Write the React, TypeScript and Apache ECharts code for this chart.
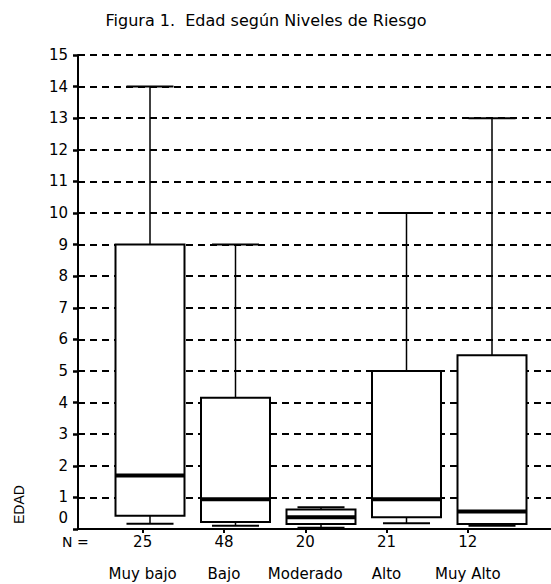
import React, { useEffect, useRef } from "react";
import * as echarts from "echarts";

const categories = ["Muy bajo", "Bajo", "Moderado", "Alto", "Muy Alto"];
const nCounts = ["25", "48", "20", "21", "12"];
const lowerWhisker = [0.17, 0.1, 0.04, 0.18, 0.1];
const q1 = [0.42, 0.22, 0.16, 0.37, 0.16];
const median = [1.69, 0.94, 0.37, 0.94, 0.55];
const q3 = [9, 4.15, 0.62, 5.0, 5.5];
const upperWhisker = [14, 9, 0.69, 10, 13];
const yTicks = { min: 0, max: 15, interval: 1 };

const FONT = "'DejaVu Sans', sans-serif";
const FONT2 = "'Liberation Sans', Arial, sans-serif";

export default function App() {
  const ref = useRef<HTMLDivElement>(null);
  useEffect(() => {
    if (!ref.current) return;
    const chart = echarts.init(ref.current, null, { renderer: "svg" });
    const top = 55;
    const bottom = 55;
    const boxData = categories.map((_, i) => [
      i,
      lowerWhisker[i],
      q1[i],
      median[i],
      q3[i],
      upperWhisker[i],
    ]);
    const option: any = {
      animation: false,
      backgroundColor: "#fff",
      textStyle: { fontFamily: FONT, color: "#000" },
      grid: [
        { left: 78, right: 0, top, bottom },
        { left: 107.25, width: 427.5, top, bottom },
        { left: 102, width: 406.5, top, bottom },
      ],
      xAxis: [
        {
          type: "value",
          gridIndex: 0,
          position: "bottom",
          min: 0,
          max: 1,
          axisLine: { show: true, onZero: false, lineStyle: { color: "#000", width: 2 } },
          axisTick: { show: false },
          axisLabel: { show: false },
          splitLine: { show: false },
        },
        {
          type: "value",
          gridIndex: 0,
          position: "top",
          min: 0,
          max: 1,
          axisLine: { show: true, lineStyle: { color: "#000", width: 2 } },
          axisTick: { show: false },
          axisLabel: { show: false },
          splitLine: { show: false },
        },
        {
          type: "category",
          gridIndex: 1,
          data: categories,
          show: false,
        },
        {
          type: "category",
          gridIndex: 2,
          position: "bottom",
          data: nCounts,
          axisLine: { show: false },
          axisTick: {
            show: true,
            alignWithLabel: true,
            length: 4,
            lineStyle: { color: "#000", width: 2 },
          },
          axisLabel: { interval: 0, margin: 5, fontSize: 15, color: "#000", fontFamily: FONT },
        },
        {
          type: "category",
          gridIndex: 2,
          position: "bottom",
          data: categories,
          axisLine: { show: false },
          axisTick: { show: false },
          axisLabel: { interval: 0, margin: 37, fontSize: 15, color: "#000", fontFamily: FONT },
        },
      ],
      yAxis: [
        {
          type: "value",
          gridIndex: 0,
          min: yTicks.min,
          max: yTicks.max,
          interval: yTicks.interval,
          axisLine: { show: true, lineStyle: { color: "#000", width: 2 } },
          axisTick: { show: true, length: 5, lineStyle: { color: "#000", width: 2.5 } },
          axisLabel: {
            margin: 10,
            fontSize: 15,
            color: "#000",
            fontFamily: FONT,
            formatter: (v: number) => (v === 0 ? "{z|0}" : String(v)),
            rich: { z: { fontSize: 15, fontFamily: FONT, color: "#000", padding: [0, 0, 22, 0] } },
          },
          splitLine: {
            show: true,
            lineStyle: { color: "#000", width: 2, type: [7, 5] },
          },
        },
        {
          type: "value",
          gridIndex: 1,
          min: yTicks.min,
          max: yTicks.max,
          show: false,
        },
        {
          type: "value",
          gridIndex: 2,
          min: yTicks.min,
          max: yTicks.max,
          show: false,
        },
      ],
      series: [
        {
          type: "custom",
          xAxisIndex: 2,
          yAxisIndex: 1,
          data: boxData,
          z: 5,
          renderItem: (params: any, api: any) => {
            const x = api.value(0);
            const pLo = api.coord([x, api.value(1)]);
            const pQ1 = api.coord([x, api.value(2)]);
            const pMed = api.coord([x, api.value(3)]);
            const pQ3 = api.coord([x, api.value(4)]);
            const pHi = api.coord([x, api.value(5)]);
            const band = api.size([1, 0])[0];
            const bw = band * 0.807;
            const cw = band * 0.55;
            const cx = pMed[0];
            const line = (x1: number, y1: number, x2: number, y2: number, w: number) => ({
              type: "line",
              shape: { x1, y1, x2, y2 },
              style: { stroke: "#000", lineWidth: w },
            });
            return {
              type: "group",
              children: [
                line(cx, pQ3[1], cx, pHi[1], 1.5),
                line(cx, pLo[1], cx, pQ1[1], 1.5),
                line(cx - cw / 2, pHi[1], cx + cw / 2, pHi[1], 2),
                line(cx - cw / 2, pLo[1], cx + cw / 2, pLo[1], 2),
                {
                  type: "rect",
                  shape: { x: cx - bw / 2, y: pQ3[1], width: bw, height: pQ1[1] - pQ3[1] },
                  style: { fill: "#fff", stroke: "#000", lineWidth: 2 },
                },
                line(cx - bw / 2, pMed[1], cx + bw / 2, pMed[1], 4),
              ],
            };
          },
        },
      ],
      graphic: [
        {
          type: "text",
          x: 266,
          y: 20,
          style: {
            text: "Figura 1.  Edad según Niveles de Riesgo",
            fontSize: 16,
            fontFamily: FONT,
            fill: "#000",
            align: "center",
            verticalAlign: "middle",
          },
        },
        {
          type: "text",
          x: 62,
          y: 542,
          style: {
            text: "N =",
            fontSize: 14,
            fontFamily: FONT,
            fill: "#000",
            verticalAlign: "middle",
          },
        },
        {
          type: "text",
          x: 12,
          y: 524,
          rotation: Math.PI / 2,
          style: { text: "EDAD", fontSize: 14, fontFamily: FONT2, fill: "#000" },
        },
      ],
    };
    chart.setOption(option);
    return () => chart.dispose();
  }, []);
  return (
    <div
      ref={ref}
      style={{ position: "fixed", left: 0, top: 0, width: 551, height: 584 }}
    />
  );
}
